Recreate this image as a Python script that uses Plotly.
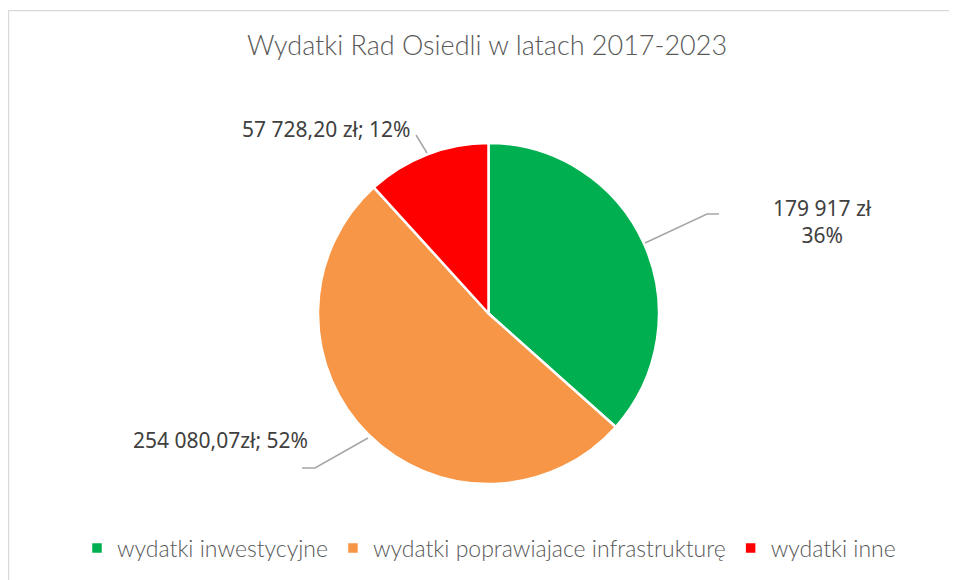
import plotly.graph_objects as go

# Data
categories = ['wydatki inwestycyjne', 'wydatki poprawiajace infrastrukturę', 'wydatki inne']
values = [179917.00, 254080.07, 57728.20]
colors = ['#00b050', '#f79646', '#ff0000']
label_texts = ['179 917 zł<br>36%', '254 080,07zł; 52%', '57 728,20 zł; 12%']

W, H = 957, 580
OFF = 8  # the page body margin shifts the figure by 8px


def px(x):
    return (x - OFF) / W


def py(y):
    return 1 - (y - OFF) / H


fig = go.Figure()

fig.add_trace(go.Pie(
    labels=categories,
    values=values,
    sort=False,
    direction='clockwise',
    rotation=0,
    textinfo='none',
    hoverinfo='label+value+percent',
    marker=dict(colors=colors, line=dict(color='white', width=2.5)),
    domain=dict(x=[px(318), px(659)], y=[py(484), py(143)]),
))

# Data labels and leader lines (pixel positions)
label_pos = [(822, 222, 'center'), (310, 440, 'right'), (412, 129, 'right')]
leader_paths = [
    [(645, 243), (707, 214), (719, 214)],
    [(368, 438), (315, 468), (302, 468)],
    [(427, 153), (416, 135)],
]

annotations = []
for text, (x, y, anchor) in zip(label_texts, label_pos):
    annotations.append(dict(
        x=px(x), y=py(y), xref='paper', yref='paper',
        text=text, showarrow=False, xanchor=anchor, yanchor='middle',
        align='center',
        font=dict(family='Noto Sans', size=21, color='#404040'),
    ))

shapes = []
for pts in leader_paths:
    path = 'M ' + ' L '.join(f'{px(x)},{py(y)}' for x, y in pts)
    shapes.append(dict(type='path', xref='paper', yref='paper', path=path,
                       line=dict(color='#a6a6a6', width=1.5)))

# chart border (only left and top edges are visible in the window)
shapes.append(dict(type='path', xref='paper', yref='paper',
                   path=f'M {px(8.6)},{py(600)} L {px(8.6)},{py(10.6)} L {px(980)},{py(10.6)}',
                   line=dict(color='#d9d9d9', width=1.2), layer='below'))

fig.update_layout(
    width=W, height=H,
    margin=dict(l=0, r=0, t=0, b=0),
    paper_bgcolor='white',
    title=dict(text='Wydatki Rad Osiedli w latach 2017-2023',
               x=px(487), xanchor='center', y=py(46), yanchor='middle',
               font=dict(family='Lato', size=27, color='#595959', weight=300)),
    legend=dict(orientation='h', x=px(489), xanchor='center', y=py(548), yanchor='middle',
                font=dict(family='Lato', size=23, color='#595959', weight=300),
                itemwidth=30),
    annotations=annotations,
    shapes=shapes,
)

fig.write_html('out.html')
